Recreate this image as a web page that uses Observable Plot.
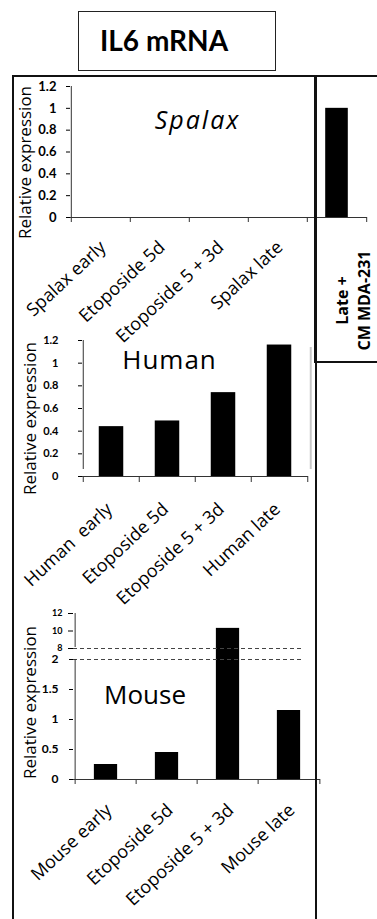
<!DOCTYPE html>
<html><head><meta charset="utf-8">
<script src="https://cdn.jsdelivr.net/npm/d3@7"></script>
<script src="https://cdn.jsdelivr.net/npm/@observablehq/plot@0.6"></script>
<style>
html,body{margin:0;padding:0;background:#fff;}
#root{position:relative;width:377px;height:919px;overflow:hidden;background:#fff;font-family:"Open Sans",sans-serif;}
.box{position:absolute;box-sizing:border-box;border:2.5px solid #111;z-index:3;pointer-events:none;}
#title{position:absolute;left:78px;top:11px;width:198px;height:60px;box-sizing:border-box;border:1.5px solid #222;font-family:Lato,sans-serif;font-weight:bold;font-size:28px;z-index:3;}
#title span{position:absolute;left:21px;top:12px;line-height:1.2;white-space:nowrap;}
</style></head>
<body>
<div id="root">
  <div id="title"><span>IL6 mRNA</span></div>
  <div class="box" style="left:12px;top:75px;width:305px;height:900px;"></div>
  <div class="box" style="left:314px;top:75px;width:90px;height:288px;"></div>
</div>
<script>
// ---------- data ----------
const yLabel = "Relative expression";

const spalaxCategories = ["Spalax early", "Etoposide 5d", "Etoposide 5 + 3d", "Spalax late"];
const spalaxValues = [0, 0, 0, 0];
const lateCmCategory = "Late +\nCM MDA-231";
const lateCmValue = 1.0;
const spalaxTicks = [0, 0.2, 0.4, 0.6, 0.8, 1, 1.2];
const spalaxTitle = "Spalax";

const humanCategories = ["Human  early", "Etoposide 5d", "Etoposide 5 + 3d", "Human late"];
const humanValues = [0.44, 0.49, 0.74, 1.16];
const humanTicks = [0, 0.2, 0.4, 0.6, 0.8, 1, 1.2];
const humanTitle = "Human";

const mouseCategories = ["Mouse early", "Etoposide 5d", "Etoposide 5 + 3d", "Mouse late"];
const mouseValues = [0.25, 0.45, 10.3, 1.15];
const mouseLowerTicks = [0, 0.5, 1, 1.5, 2];
const mouseUpperTicks = [8, 10, 12];
const mouseTitle = "Mouse";

// ---------- helpers ----------
const root = document.getElementById("root");
function place(svg, top) {
  svg.style.position = "absolute";
  svg.style.left = "0px";
  svg.style.top = top + "px";
  svg.style.zIndex = 1;
  root.appendChild(svg);
}
function spaceText(svg, str, px) {
  d3.select(svg).selectAll("text").filter(function () { return this.textContent === str; }).attr("letter-spacing", px);
}
const axisColor = "#333";
const fmt = d => String(d);
const labelSize = 18;
const labelAngle = -43;
const baseStyle = {background: "transparent", overflow: "visible", fontFamily: "'Open Sans', sans-serif", color: "#000"};

// ---------- Chart A: Spalax + Late/CM ----------
{
  const cats = [...spalaxCategories, lateCmCategory];
  const vals = [...spalaxValues, lateCmValue];
  const data = cats.map((c, i) => ({c, v: vals[i]}));
  const W = 377, H = 300, ml = 70, mr = 10, mt = 26, mb = 143;
  const bw = (W - ml - mr) / cats.length;
  const barW = 23;
  const svg = Plot.plot({
    width: W, height: H, marginLeft: ml, marginRight: mr, marginTop: mt, marginBottom: mb,
    style: baseStyle,
    x: {domain: cats, padding: 0, axis: null},
    y: {type: "linear", domain: [0, 1.2], axis: null},
    marks: [
      Plot.barY(data, {x: "c", y: "v", fill: "#000", insetLeft: (bw - barW) / 2, insetRight: (bw - barW) / 2}),
      Plot.ruleY([0], {stroke: axisColor}),
      Plot.ruleX([cats[0]], {dx: -bw / 2, y1: 0, y2: 1.2, stroke: axisColor}),
      Plot.ruleX(cats, {dx: -bw / 2, y1: 0, y2: 0, insetBottom: -5, stroke: axisColor}),
      Plot.ruleX([cats[cats.length - 1]], {dx: bw / 2, y1: 0, y2: 0, insetBottom: -5, stroke: axisColor}),
      Plot.axisY(spalaxTicks, {tickSize: 4, tickPadding: 10, tickFormat: fmt, fontSize: 13, fontWeight: "bold", fontFamily: "Lato, sans-serif", label: null}),
      Plot.text(spalaxCategories, {x: d => d, frameAnchor: "bottom", rotate: labelAngle, textAnchor: "end", lineAnchor: "middle", dx: 2, dy: 27, fontSize: labelSize}),
      Plot.text([lateCmCategory], {x: d => d, frameAnchor: "bottom", rotate: -90, textAnchor: "middle", lineAnchor: "middle", fontWeight: "bold", fontSize: 16, lineHeight: 1.4, dx: 15, dy: 83}),
      Plot.text([yLabel], {frameAnchor: "left", rotate: -90, textAnchor: "middle", lineAnchor: "middle", dx: -45, dy: 10.5, fontSize: 17}),
      Plot.text([spalaxTitle], {frameAnchor: "top", textAnchor: "middle", lineAnchor: "middle", dx: -21.5, dy: 34, fontSize: 25, fontStyle: "italic"})
    ]
  });
  spaceText(svg, spalaxTitle, "2px");
  place(svg, 60);
}

// ---------- Chart B: Human ----------
{
  const cats = humanCategories;
  const data = cats.map((c, i) => ({c, v: humanValues[i]}));
  const W = 315, H = 270, ml = 82, mr = 7, mt = 20, mb = 114;
  const bw = (W - ml - mr) / cats.length;
  const barW = 25;
  const svg = Plot.plot({
    width: W, height: H, marginLeft: ml, marginRight: mr, marginTop: mt, marginBottom: mb,
    style: baseStyle,
    x: {domain: cats, padding: 0, axis: null},
    y: {type: "linear", domain: [0, 1.2], axis: null},
    marks: [
      Plot.ruleX([cats[cats.length - 1]], {dx: bw / 2 + 3, y1: 0, y2: 1.2, insetTop: -7, insetBottom: -7, stroke: "#c8c8c8", strokeWidth: 2}),
      Plot.barY(data, {x: "c", y: "v", fill: "#000", insetLeft: (bw - barW) / 2, insetRight: (bw - barW) / 2}),
      Plot.ruleY([0], {stroke: axisColor}),
      Plot.ruleX([cats[0]], {dx: -bw / 2, y1: 0, y2: 1.2, insetTop: -7, stroke: axisColor}),
      Plot.ruleX(cats, {dx: -bw / 2, y1: 0, y2: 0, insetBottom: -6, stroke: axisColor}),
      Plot.ruleX([cats[cats.length - 1]], {dx: bw / 2, y1: 0, y2: 0, insetBottom: -6, stroke: axisColor}),
      Plot.axisY(humanTicks, {tickSize: 4, tickPadding: 20, tickFormat: fmt, fontSize: 11, fontWeight: "bold", fontFamily: "Lato, sans-serif", label: null}),
      Plot.text(cats, {x: d => d, frameAnchor: "bottom", rotate: labelAngle, textAnchor: "end", lineAnchor: "middle", dx: -2, dy: 30, fontSize: labelSize}),
      Plot.text([yLabel], {frameAnchor: "left", rotate: -90, textAnchor: "middle", lineAnchor: "middle", dx: -52, dy: 10, fontSize: 17}),
      Plot.text([humanTitle], {frameAnchor: "top", textAnchor: "middle", lineAnchor: "middle", dx: -26, dy: 20, fontSize: 26})
    ]
  });
  spaceText(svg, humanTitle, "1px");
  place(svg, 320);
}

// ---------- Chart C: Mouse (broken axis) ----------
{
  const cats = mouseCategories;
  const data = cats.map((c, i) => ({c, v: mouseValues[i]}));
  const W = 330, H = 330, ml = 73, mr = 10, mt = 23, mb = 141;
  const bw = (W - ml - mr) / cats.length;
  const barW = 24;
  const svg = Plot.plot({
    width: W, height: H, marginLeft: ml, marginRight: mr, marginTop: mt, marginBottom: mb,
    style: baseStyle,
    x: {domain: cats, padding: 0, axis: null},
    y: {type: "linear", domain: [0, 2, 8, 12], range: [189, 69, 58, 23], axis: null},
    marks: [
      Plot.barY(data, {x: "c", y: "v", fill: "#000", insetLeft: (bw - barW) / 2, insetRight: (bw - barW) / 2}),
      Plot.ruleY([2, 8], {stroke: "#444", strokeDasharray: "4,3", insetRight: 18}),
      Plot.ruleY([0], {stroke: axisColor}),
      Plot.ruleX([cats[0]], {dx: -bw / 2, y1: 0, y2: 2, stroke: axisColor}),
      Plot.ruleX([cats[0]], {dx: -bw / 2, y1: 8, y2: 12, insetTop: -1, stroke: axisColor}),
      Plot.ruleX(cats, {dx: -bw / 2, y1: 0, y2: 0, insetBottom: -5, stroke: axisColor}),
      Plot.ruleX([cats[cats.length - 1]], {dx: bw / 2, y1: 0, y2: 0, insetBottom: -5, stroke: axisColor}),
      Plot.axisY(mouseLowerTicks, {tickSize: 4, tickPadding: 11, tickFormat: fmt, fontSize: 12, fontWeight: "bold", fontFamily: "Lato, sans-serif", label: null}),
      Plot.axisY(mouseUpperTicks, {tickSize: 5, tickPadding: 6, tickFormat: fmt, fontSize: 9, fontWeight: "bold", fontFamily: "Lato, sans-serif", label: null}),
      Plot.text(cats, {x: d => d, frameAnchor: "bottom", rotate: labelAngle, textAnchor: "end", lineAnchor: "middle", dx: 3, dy: 28, fontSize: labelSize}),
      Plot.text([yLabel], {frameAnchor: "left", rotate: -90, textAnchor: "middle", lineAnchor: "middle", dx: -43, dy: 6, fontSize: 17}),
      Plot.text([mouseTitle], {frameAnchor: "top", textAnchor: "middle", lineAnchor: "middle", dx: -52, dy: 82, fontSize: 26})
    ]
  });
  place(svg, 590);
}
</script>
</body></html>
